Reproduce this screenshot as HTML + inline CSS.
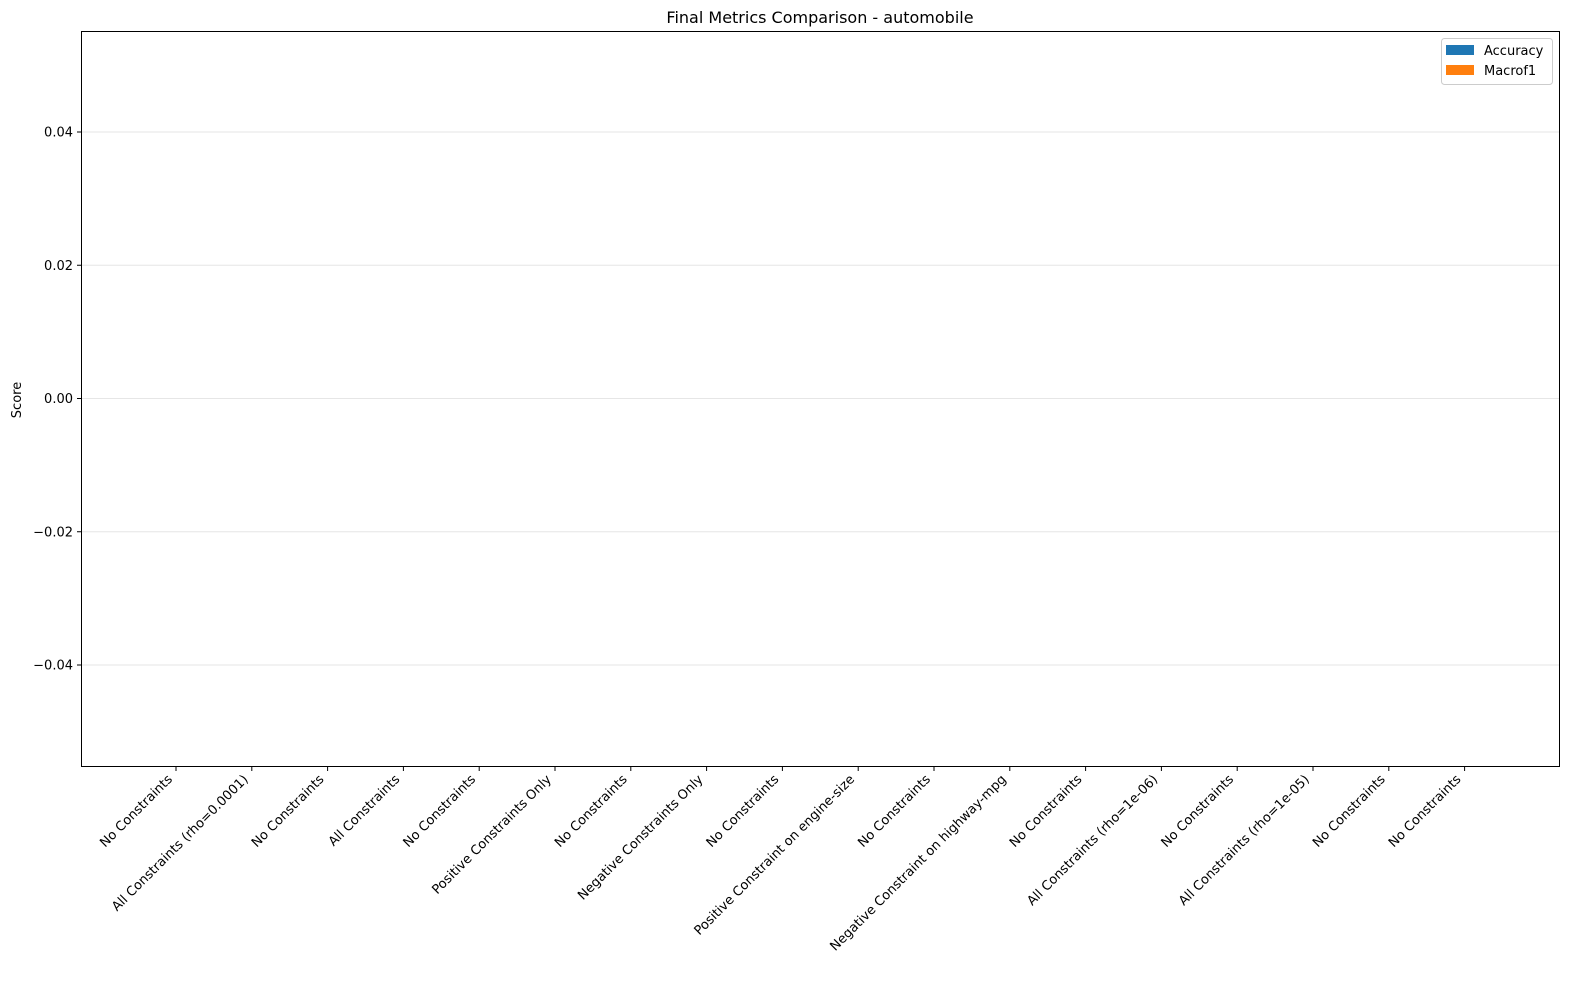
<!DOCTYPE html>
<html><head><meta charset="utf-8"><style>
body{margin:0;background:#fff;}
svg{display:block;font-family:"DejaVu Sans","Liberation Sans",sans-serif;}
</style></head><body>
<svg id="chart" width="1589" height="989">
<text x="820" y="23" text-anchor="middle" font-size="16">Final Metrics Comparison - automobile</text>
<text x="0" y="0" transform="translate(21,400) rotate(-90)" text-anchor="middle" font-size="13">Score</text>
<g id="grid"></g><g id="bars"></g><g id="yticks"></g><g id="xticks"></g>
<rect x="81.5" y="31.5" width="1478" height="735" fill="none" stroke="#000" stroke-width="1"/>
<g>
<rect x="1441.5" y="38.5" width="111" height="46" rx="3" fill="#fff" stroke="#ccc"/>
<rect x="1446" y="45" width="28" height="10" fill="#1f77b4"/>
<text x="1484" y="55" font-size="13">Accuracy</text>
<rect x="1446" y="65" width="28" height="10" fill="#ff7f0e"/>
<text x="1484" y="75" font-size="13">Macrof1</text>
</g>
</svg>
<script>
const categories=["No Constraints","All Constraints (rho=0.0001)","No Constraints","All Constraints","No Constraints","Positive Constraints Only","No Constraints","Negative Constraints Only","No Constraints","Positive Constraint on engine-size","No Constraints","Negative Constraint on highway-mpg","No Constraints","All Constraints (rho=1e-06)","No Constraints","All Constraints (rho=1e-05)","No Constraints","No Constraints"];
const accuracy=[0,0,0,0,0,0,0,0,0,0,0,0,0,0,0,0,0,0];
const macrof1=[0,0,0,0,0,0,0,0,0,0,0,0,0,0,0,0,0,0];
const yTicks=[-0.04,-0.02,0,0.02,0.04];
const yTickLabels=["\u22120.04","\u22120.02","0.00","0.02","0.04"];
const NS="http://www.w3.org/2000/svg";
const xs=i=>176+i*75.8;
const ys=v=>398.5-v/0.02*133.25;
function mk(tag,attrs,parent){const e=document.createElementNS(NS,tag);for(const k in attrs)e.setAttribute(k,attrs[k]);document.getElementById(parent).appendChild(e);return e;}
yTicks.forEach((t,i)=>{
 const g=mk('line',{x1:82,x2:1559,y1:ys(t),y2:ys(t),stroke:'#e6e6e6','stroke-width':1},'grid');
 
 
 const tk=mk('line',{x1:77,x2:81,y1:ys(t),y2:ys(t),stroke:'#000'},'yticks');
 
 
 const tx=mk('text',{x:73,y:ys(t)+4.5,'text-anchor':'end','font-size':13},'yticks');
 tx.textContent=yTickLabels[i];
 
 
});
categories.forEach((c,i)=>{
 const x=xs(i);
 const h1=ys(0)-ys(accuracy[i]);
 const b1=mk('rect',{x:x-26,y:Math.min(ys(0),ys(accuracy[i])),width:26,height:Math.abs(h1),fill:'#1f77b4'},'bars');
 
 
 const h2=ys(0)-ys(macrof1[i]);
 const b2=mk('rect',{x:x,y:Math.min(ys(0),ys(macrof1[i])),width:26,height:Math.abs(h2),fill:'#ff7f0e'},'bars');
 
 
 const tk=mk('line',{x1:x,x2:x,y1:767,y2:771,stroke:'#000'},'xticks');
 
 
 const tx=mk('text',{x:0,y:0,'text-anchor':'end','font-size':13,transform:`translate(${x-3},${780}) rotate(-45)`},'xticks');
 tx.textContent=c;
 
 
});
</script>
</body></html>
